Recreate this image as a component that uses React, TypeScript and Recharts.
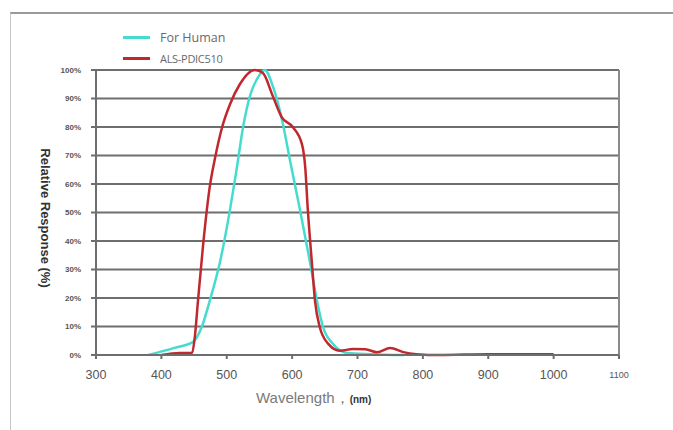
import React from 'react';
import { LineChart, Line, XAxis, YAxis, CartesianGrid, ReferenceLine } from 'recharts';

// For Human (eye response) curve
const humanWavelengths = [380, 420, 448, 462, 474, 490, 505, 515, 525, 535, 548, 558, 571, 586, 597, 612, 627, 638, 647, 662, 684, 720, 771];
const humanResponse = [0, 2.5, 4.5, 10, 19, 33, 51, 65, 80, 90.5, 97.5, 100, 94, 81, 68, 51, 33, 19, 10, 4, 0.7, 0.3, 0];

// ALS-PDIC510 curve
const pdicWavelengths = [400, 428, 447, 451, 456, 464, 474, 482, 493, 505, 520, 543, 555, 571, 584, 601, 615, 620, 624, 630, 635, 642, 655, 673, 693, 712, 730, 750, 770, 790, 826, 900, 1000];
const pdicResponse = [0, 0.7, 0.7, 6, 19, 39, 59, 69, 80, 88, 95, 100, 99, 90.5, 83.5, 80, 74, 66, 51, 33, 19, 10, 4, 1.5, 2.1, 2, 1, 2.5, 1, 0.3, 0, 0.3, 0.3];

const xTicks = [300, 400, 500, 600, 700, 800, 900, 1000, 1100];
const yTicks = [0, 10, 20, 30, 40, 50, 60, 70, 80, 90, 100];

const seriesNames = ['For Human', 'ALS-PDIC510'];
const seriesColors = ['#45dccf', '#c0282e'];

const humanData = humanWavelengths.map((wl, i) => ({ wl, value: humanResponse[i] }));
const pdicData = pdicWavelengths.map((wl, i) => ({ wl, value: pdicResponse[i] }));

const LegendBox = () => (
  <div style={{ position: 'absolute', left: 123, top: 27, fontFamily: '"Open Sans", sans-serif', color: '#6a6a6a' }}>
    {seriesNames.map((name, i) => (
      <div key={name} style={{ display: 'flex', alignItems: 'center', height: 21 }}>
        <span style={{ display: 'inline-block', width: 27, height: 3, background: seriesColors[i], marginRight: 10 }} />
        <span style={{ fontSize: i === 0 ? 12.5 : 11, letterSpacing: i === 0 ? 0 : -0.3 }}>{name}</span>
      </div>
    ))}
  </div>
);

const XTick = (props: any) => {
  const { x, y, payload } = props;
  const last = payload.value === 1100;
  return (
    <text
      x={x}
      y={y}
      dy={last ? '0.9em' : '0.71em'}
      textAnchor="middle"
      fontSize={last ? 9 : 12.5}
      fill="#555"
      fontFamily='"Liberation Sans", Arial, sans-serif'
    >
      {payload.value}
    </text>
  );
};

const XLabel = (props: any) => {
  const { viewBox } = props;
  const x = viewBox.x + 160;
  const y = viewBox.y + 48;
  return (
    <text x={x} y={y} fontFamily='"Liberation Sans", Arial, sans-serif'>
      <tspan fontSize={15} fill="#7a7a7a">Wavelength，</tspan>
      <tspan fontSize={10} fontWeight="bold" fill="#333">(nm)</tspan>
    </text>
  );
};

const YLabel = () => {
  const cx = 45;
  const cy = 218;
  return (
    <text
      x={cx}
      y={cy}
      transform={`rotate(90, ${cx}, ${cy})`}
      textAnchor="middle"
      dominantBaseline="central"
      fontSize={13}
      fontWeight="bold"
      fill="#333"
      fontFamily='"Liberation Sans", Arial, sans-serif'
    >
      Relative Response (%)
    </text>
  );
};

export default function App() {
  return (
    <div style={{ position: 'absolute', left: 0, top: 0, width: 673, height: 430, background: '#fff' }}>
      <div
        style={{
          position: 'absolute',
          left: 10,
          top: 12,
          width: 663,
          height: 418,
          borderTop: '2px solid #9a9a9a',
          borderLeft: '1px solid #c8c8c8',
        }}
      />
      <LegendBox />
      <LineChart
        width={673}
        height={430}
        margin={{ top: 70, right: 54, left: 0, bottom: 45 }}
        style={{ position: 'absolute', left: 0, top: 0 }}
      >
        <CartesianGrid vertical={false} stroke="#6e6e6e" strokeWidth={2} />
        <XAxis
          dataKey="wl"
          type="number"
          domain={[300, 1100]}
          ticks={xTicks}
          allowDuplicatedCategory={false}
          height={30}
          stroke="#6e6e6e"
          strokeWidth={2}
          tickSize={4}
          tickMargin={11}
          tick={<XTick />}
          label={<XLabel />}
        />
        <YAxis
          type="number"
          domain={[0, 100]}
          ticks={yTicks}
          width={96}
          stroke="#6e6e6e"
          strokeWidth={2}
          tickSize={5}
          tickMargin={10}
          tickFormatter={(v: number) => `${v}%`}
          tick={{ fontSize: 8, fontWeight: 'bold', fill: '#555', fontFamily: '"Liberation Sans", Arial, sans-serif' }}
          label={<YLabel />}
        />
        <ReferenceLine x={1100} stroke="#8a8a8a" strokeWidth={2} />
        <Line
          data={humanData}
          dataKey="value"
          name={seriesNames[0]}
          type="monotone"
          stroke={seriesColors[0]}
          strokeWidth={2.5}
          dot={false}
          isAnimationActive={false}
        />
        <Line
          data={pdicData}
          dataKey="value"
          name={seriesNames[1]}
          type="monotone"
          stroke={seriesColors[1]}
          strokeWidth={2.5}
          dot={false}
          isAnimationActive={false}
        />
      </LineChart>
    </div>
  );
}
